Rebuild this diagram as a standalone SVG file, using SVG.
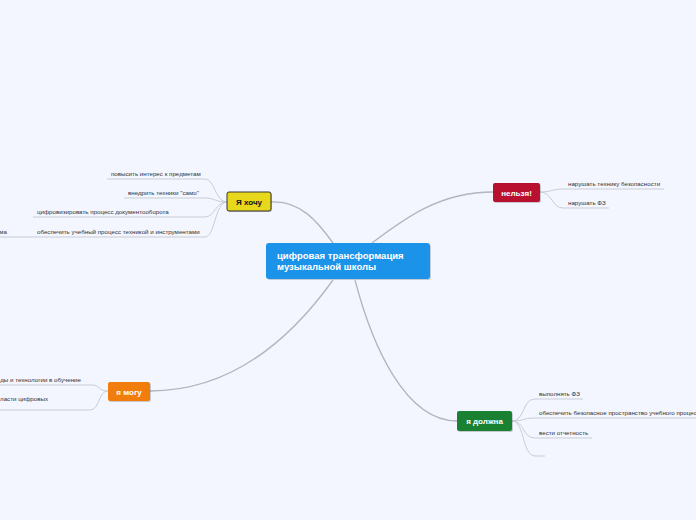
<svg xmlns="http://www.w3.org/2000/svg" width="696" height="520" viewBox="0 0 696 520">
<style>
.sub{font-family:"Liberation Sans",Arial,sans-serif;font-size:6.2px;fill:#333}
.ul{fill:none;stroke:#c8ccd4;stroke-width:1}
.main{fill:none;stroke:#b0b5be;stroke-width:1.3}
.nt{font-family:"Liberation Sans",Arial,sans-serif;font-size:8px;font-weight:bold;text-anchor:middle}
.sh{fill:#000;opacity:0.18}
</style>
<rect width="696" height="520" fill="#f3f6fe"/>
<g id="connectors">
<path class="main" d="M271 202 C300 200 318 222 333 243"/>
<path class="main" d="M372 243 C405 218 440 192 493 192"/>
<path class="main" d="M333 280 C290 340 230 391 150 391"/>
<path class="main" d="M355 280 C372 345 405 421 457 421"/>
<path class="ul" d="M227 202 C215 202 215 179 205 179 L107 179"/>
<path class="ul" d="M227 202 C215 202 215 198 205 198 L124 198"/>
<path class="ul" d="M227 202 C215 202 215 217 205 217 L33 217"/>
<path class="ul" d="M227 202 C215 202 215 237 205 237 L0 237"/>
<path class="ul" d="M540 192 C552 192 552 189 563 189 L664 189"/>
<path class="ul" d="M540 192 C552 192 552 208 563 208 L609 208"/>
<path class="ul" d="M108 391 C98 391 100 385 92 385 L0 385"/>
<path class="ul" d="M108 391 C98 391 100 410 90 410 L0 410"/>
<path class="ul" d="M512 421 C525 421 522 399 535 399 L583 399"/>
<path class="ul" d="M512 421 C525 421 522 418 535 418 L696 418"/>
<path class="ul" d="M512 421 C525 421 522 438 535 438 L592 438"/>
<path class="ul" d="M512 421 C525 421 522 456 535 456 L545 456"/>
</g>
<g id="central">
<rect class="sh" x="267" y="244" width="164" height="36" rx="3"/>
<rect x="266" y="243" width="164" height="36" rx="3" fill="#1a93e8"/>
<text x="277" y="259" font-family="'Liberation Sans',Arial,sans-serif" font-size="9.5" font-weight="bold" fill="#fff">цифровая трансформация</text>
<text x="277" y="270" font-family="'Liberation Sans',Arial,sans-serif" font-size="9.5" font-weight="bold" fill="#fff">музыкальной школы</text>
</g>
<g id="want">
<rect class="sh" x="228" y="193" width="44" height="19" rx="2"/>
<rect x="227" y="192" width="44" height="19" rx="2" fill="#e8d81c" stroke="#333" stroke-width="1"/>
<text class="nt" x="249" y="205" fill="#111">Я хочу</text>
</g>
<g id="want1"><text class="sub" x="111" y="176">повысить интерес к предметам</text></g>
<g id="want2"><text class="sub" x="128" y="195">внедрить техники "само"</text></g>
<g id="want3"><text class="sub" x="37" y="214">цифровизировать процесс документооборота</text></g>
<g id="want4"><text class="sub" x="37" y="234">обеспечить учебный процесс техникой и инструментами</text></g>
<g id="want4a"><text class="sub" x="7" y="234" text-anchor="end">ма</text></g>
<g id="forbidden">
<rect class="sh" x="494" y="184" width="47" height="19" rx="2"/>
<rect x="493" y="183" width="47" height="19" rx="2" fill="#b8102e"/>
<text class="nt" x="516.5" y="195.5" fill="#fff">нельзя!</text>
</g>
<g id="forb1"><text class="sub" x="568" y="186">нарушать технику безопасности</text></g>
<g id="forb2"><text class="sub" x="568" y="205">нарушать ФЗ</text></g>
<g id="can">
<rect class="sh" x="109" y="383" width="42" height="19" rx="2"/>
<rect x="108" y="382" width="42" height="19" rx="2" fill="#f07d0c"/>
<text class="nt" x="129" y="394.5" fill="#fff">я могу</text>
</g>
<g id="can1"><text class="sub" x="81" y="382" text-anchor="end">ды и технологии в обучение</text></g>
<g id="can2"><text class="sub" x="48" y="401" text-anchor="end">ласти цифровых</text></g>
<g id="must">
<rect class="sh" x="458" y="412" width="55" height="20" rx="2"/>
<rect x="457" y="411" width="55" height="20" rx="2" fill="#1a8032"/>
<text class="nt" x="484.5" y="424" fill="#fff">я должна</text>
</g>
<g id="must1"><text class="sub" x="539" y="396">выполнять ФЗ</text></g>
<g id="must2"><text class="sub" x="539" y="415">обеспечить безопасное пространство учебного процесса</text></g>
<g id="must3"><text class="sub" x="539" y="435">вести отчетность</text></g>
<g id="must4"></g>
</svg>
